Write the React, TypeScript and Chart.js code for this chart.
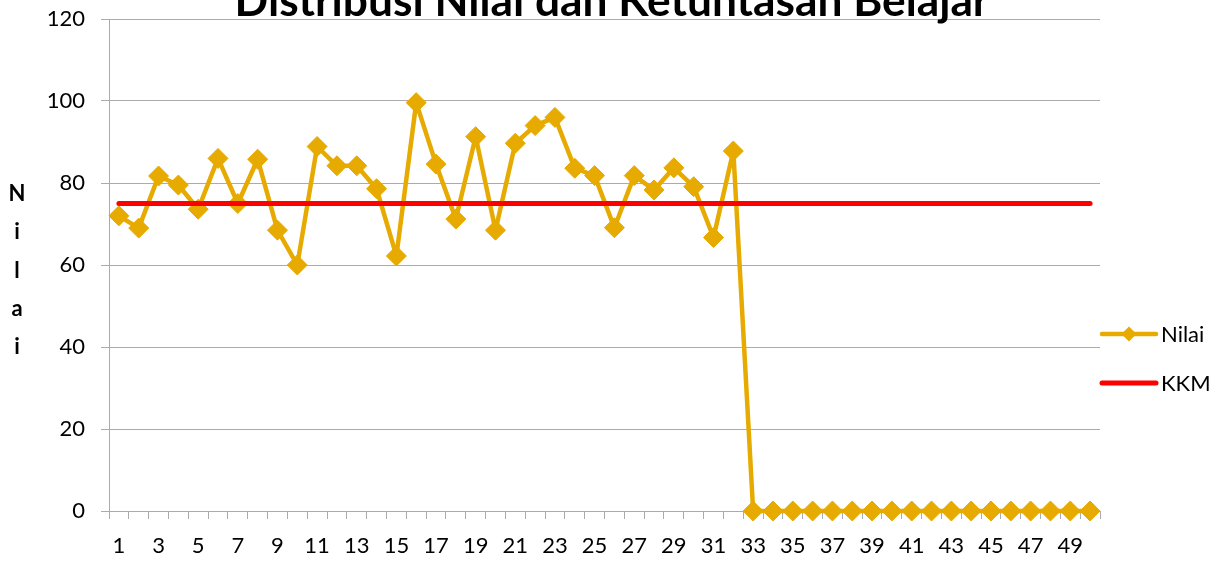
import React, { useEffect, useRef } from 'react';
import { Chart, registerables } from 'chart.js';

Chart.register(...registerables);

const chartTitle = 'Distribusi Nilai dan Ketuntasan Belajar';
const yAxisLetters = ['N', 'i', 'l', 'a', 'i'];

const categories = [
  '1', '2', '3', '4', '5', '6', '7', '8', '9', '10',
  '11', '12', '13', '14', '15', '16', '17', '18', '19', '20',
  '21', '22', '23', '24', '25', '26', '27', '28', '29', '30',
  '31', '32', '33', '34', '35', '36', '37', '38', '39', '40',
  '41', '42', '43', '44', '45', '46', '47', '48', '49', '50',
];

const nilai = [
  72, 69, 81.7, 79.5, 73.6, 86, 75, 85.8, 68.5, 60,
  88.9, 84.2, 84.2, 78.6, 62.2, 99.6, 84.6, 71.2, 91.3, 68.5,
  89.7, 94, 96, 83.6, 81.8, 69.1, 81.8, 78.3, 83.7, 79.1,
  66.7, 87.8, 0, 0, 0, 0, 0, 0, 0, 0,
  0, 0, 0, 0, 0, 0, 0, 0, 0, 0,
];

const kkm = [
  75, 75, 75, 75, 75, 75, 75, 75, 75, 75,
  75, 75, 75, 75, 75, 75, 75, 75, 75, 75,
  75, 75, 75, 75, 75, 75, 75, 75, 75, 75,
  75, 75, 75, 75, 75, 75, 75, 75, 75, 75,
  75, 75, 75, 75, 75, 75, 75, 75, 75, 75,
];

const seriesNames = ['Nilai', 'KKM'];
const yMin = 0;
const yMax = 120;
const yStep = 20;

const GOLD = '#E6AA00';
const RED = '#FF0000';
const GRID = '#ababab';
const FONT = 'Lato, "Open Sans", sans-serif';

const decorPlugin = {
  id: 'decor',
  afterDraw(chart: any) {
    const ctx = chart.ctx as CanvasRenderingContext2D;
    ctx.save();
    // Title (partly cut at the top, like the original)
    ctx.font = `bold 32px ${FONT}`;
    const w = ctx.measureText(chartTitle).width;
    const size = (32 * 755) / w;
    ctx.font = `bold ${size}px ${FONT}`;
    ctx.fillStyle = '#000';
    ctx.textAlign = 'center';
    ctx.textBaseline = 'alphabetic';
    ctx.fillText(chartTitle, 612, 15.5);

    // Vertical stacked axis title
    ctx.font = `bold 22px ${FONT}`;
    ctx.textBaseline = 'alphabetic';
    yAxisLetters.forEach((ch, i) => {
      ctx.fillText(ch, 17, 201 + i * 38.3);
    });

    // Legend
    const ly = [334, 383];
    const colors = [GOLD, RED];
    ctx.lineCap = 'round';
    ctx.textBaseline = 'middle';
    for (let i = 0; i < 2; i++) {
      ctx.strokeStyle = colors[i];
      ctx.lineWidth = i === 0 ? 4.5 : 5;
      ctx.beginPath();
      ctx.moveTo(1102, ly[i]);
      ctx.lineTo(1156, ly[i]);
      ctx.stroke();
      if (i === 0) {
        const cx = 1129;
        const r = 7.5;
        ctx.fillStyle = GOLD;
        ctx.beginPath();
        ctx.moveTo(cx, ly[i] - r);
        ctx.lineTo(cx + r, ly[i]);
        ctx.lineTo(cx, ly[i] + r);
        ctx.lineTo(cx - r, ly[i]);
        ctx.closePath();
        ctx.fill();
      }
      ctx.fillStyle = '#000';
      ctx.textAlign = 'left';
      ctx.font = `22px ${FONT}`;
      ctx.fillText(seriesNames[i], 1161, ly[i] + 1);
    }
    ctx.restore();
  },
};

export default function App() {
  const canvasRef = useRef<HTMLCanvasElement | null>(null);

  useEffect(() => {
    if (!canvasRef.current) return;
    const chart = new Chart(canvasRef.current, {
      type: 'line',
      data: {
        labels: categories,
        datasets: [
          {
            label: seriesNames[0],
            data: nilai,
            borderColor: GOLD,
            backgroundColor: GOLD,
            borderWidth: 4.5,
            borderJoinStyle: 'round',
            pointStyle: 'rectRot',
            pointRadius: 10,
            pointBorderWidth: 1,
            pointBackgroundColor: GOLD,
            pointBorderColor: GOLD,
            tension: 0,
            clip: false,
            order: 1,
          },
          {
            label: seriesNames[1],
            data: kkm,
            borderColor: RED,
            backgroundColor: RED,
            borderWidth: 5,
            borderCapStyle: 'round',
            pointRadius: 0,
            tension: 0,
            clip: false,
            order: 0,
          },
        ],
      },
      options: {
        animation: false,
        responsive: true,
        maintainAspectRatio: false,
        layout: { padding: { top: 19, right: 118, left: 0, bottom: 0 } },
        plugins: {
          legend: { display: false },
          title: { display: false },
          tooltip: { enabled: false },
        },
        scales: {
          x: {
            offset: true,
            grid: {
              offset: true,
              drawOnChartArea: false,
              drawTicks: true,
              tickLength: 8,
              tickColor: GRID,
            },
            border: { color: GRID, width: 1 },
            ticks: {
              autoSkip: false,
              maxRotation: 0,
              minRotation: 0,
              padding: 14,
              color: '#000',
              font: { family: FONT, size: 22 },
              callback: (_v: any, i: number) => (i % 2 === 0 ? categories[i] : ''),
            },
            afterFit: (s: any) => {
              s.height = 54;
            },
          },
          y: {
            min: yMin,
            max: yMax,
            grid: {
              color: GRID,
              tickLength: 8,
              tickColor: GRID,
            },
            border: { color: GRID, width: 1 },
            ticks: {
              stepSize: yStep,
              padding: 16,
              color: '#000',
              font: { family: FONT, size: 22, lineHeight: 0.5 },
            },
            afterFit: (s: any) => {
              s.width = 109;
              s.paddingTop = 0;
              s.paddingBottom = 0;
            },
          },
        },
      },
      plugins: [decorPlugin],
    });
    return () => chart.destroy();
  }, []);

  return (
    <div style={{ position: 'fixed', left: 0, top: 0, width: 1218, height: 565 }}>
      <canvas ref={canvasRef} />
    </div>
  );
}
